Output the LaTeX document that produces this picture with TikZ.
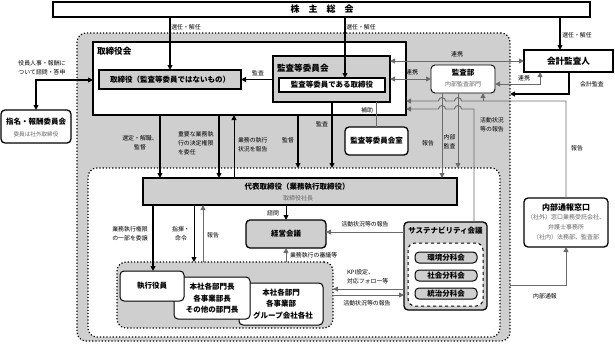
\documentclass[tikz,border=0pt]{standalone}
\usepackage{fontspec}
\setmainfont{Noto Sans CJK JP}
\usetikzlibrary{arrows.meta}
\definecolor{boxgray}{gray}{0.81}
\definecolor{linegray}{gray}{0.42}
\definecolor{txtgray}{gray}{0.4}
\begin{document}
\begin{tikzpicture}[x=1pt,y=-1pt,
  every node/.style={inner sep=0pt, outer sep=0pt},
  box/.style={draw, line width=1.3pt, align=center},
  rbox/.style={box, rounded corners=4pt},
  gbox/.style={fill=boxgray},
  wbox/.style={fill=white},
  region/.style={draw, dotted, line width=1.2pt, rounded corners=9pt},
  bt/.style={font=\bfseries\fontsize{7.5}{9}\selectfont},
  btl/.style={font=\bfseries\fontsize{8.6}{10}\selectfont},
  lbl/.style={font=\fontsize{5.9}{8.8}\selectfont, align=center},
  sub/.style={font=\fontsize{6}{8}\selectfont, text=txtgray},
  tip/.tip={Triangle[length=5pt,width=4.8pt]},
  arr/.style={line width=1.3pt, -tip},
  marr/.style={line width=0.9pt, -tip},
  arr2/.style={line width=1.1pt, tip-tip},
  garr/.style={draw=linegray, line width=0.9pt, -tip},
  garr2/.style={draw=linegray, line width=0.9pt, tip-tip}
]
\useasboundingbox (0,0) rectangle (615,343);

% ---------- regions and boxes ----------
\node[box, wbox, minimum width=537pt, minimum height=15pt] (sh) at (321.5,9.5) {};
\node[font=\bfseries\fontsize{9}{10}\selectfont] (shT) at (322,9.5) {株　主　総　会};

\node[region, fill=boxgray, minimum width=433pt, minimum height=308pt] (outer) at (293.5,187) {};
\node[box, wbox, minimum width=313pt, minimum height=73pt] (board) at (249.5,78.5) {};
\node[btl, anchor=west] (boardT) at (97,51) {取締役会};
\node[box, gbox, minimum width=142pt, minimum height=19pt, bt] (dir) at (170,79.5) {取締役（監査等委員ではないもの）};

\node[box, gbox, minimum width=117pt, minimum height=46pt] (ac) at (331.5,79) {};
\node[btl, anchor=west] (acT) at (277,68) {監査等委員会};
\node[box, wbox, minimum width=106pt, minimum height=14pt, bt] (am) at (332,85) {監査等委員である取締役};

\node[box, wbox, minimum width=89pt, minimum height=22pt, btl] (aa) at (568.5,61) {会計監査人};

\node[rbox, wbox, line width=0.9pt, minimum width=64pt, minimum height=28pt] (ad) at (463,79) {};
\node[bt] (adT) at (463,73) {監査部};
\node[sub] (adS) at (463,84.5) {内部監査部門};

\node[rbox, wbox, minimum width=63pt, minimum height=28pt, bt] (room) at (376.5,141) {監査等委員会室};

\node[rbox, wbox, minimum width=70pt, minimum height=33pt] (nom) at (36,126.5) {};
\node[bt] (nomT) at (36,122) {指名・報酬委員会};
\node[sub, font=\fontsize{5.6}{7}\selectfont] (nomS) at (36,134) {委員は社外取締役};

\node[region, fill=white, minimum width=412pt, minimum height=169pt] (inner) at (294,252.5) {};
\node[box, gbox, minimum width=314pt, minimum height=27pt] (rep) at (300,191.5) {};
\node[bt] (repT) at (297,186.5) {代表取締役（業務執行取締役）};
\node[sub] (repS) at (298,198.5) {取締役社長};

\node[rbox, gbox, minimum width=80pt, minimum height=28pt, bt] (mm) at (286,234) {経営会議};

\node[rbox, gbox, minimum width=83pt, minimum height=88pt] (sust) at (445.5,266) {};
\node[bt] (sustT) at (445.5,231) {サステナビリティ会議};
\node[draw, dashed, line width=1pt, rounded corners=7pt, fill=white, minimum width=75pt, minimum height=63pt] (sin) at (445.5,274.5) {};
\node[rbox, gbox, line width=1pt, minimum width=62pt, minimum height=11pt, bt] (env) at (446,257.5) {環境分科会};
\node[rbox, gbox, line width=1pt, minimum width=62pt, minimum height=11pt, bt] (soc) at (446,275.5) {社会分科会};
\node[rbox, gbox, line width=1pt, minimum width=62pt, minimum height=11pt, bt] (gov) at (446,293.5) {統治分科会};

\node[region, fill=boxgray, minimum width=216pt, minimum height=66pt] (low) at (225,295) {};
\node[rbox, wbox, line width=1pt, minimum width=84pt, minimum height=42pt] (dept) at (281,304) {};
\node[bt] (deptA) at (281,292.5) {本社各部門};
\node[bt] (deptB) at (281,304) {各事業部};
\node[bt] (deptC) at (283,315.5) {グループ会社各社};
\node[rbox, wbox, line width=1pt, minimum width=76pt, minimum height=42pt] (head) at (212,298) {};
\node[bt] (headA) at (212,287) {本社各部門長};
\node[bt] (headB) at (212,298.5) {各事業部長};
\node[bt] (headC) at (212,310) {その他の部門長};
\node[rbox, wbox, line width=1pt, minimum width=64pt, minimum height=30pt, bt] (exe) at (152,286) {執行役員};

\node[rbox, wbox, minimum width=84pt, minimum height=49pt] (ip) at (566,222.5) {};
\node[font=\bfseries\fontsize{8}{10}\selectfont] (ipT) at (566,207) {内部通報窓口};
\node[sub] (ipA) at (566,217.5) {（社外）窓口業務受託会社、};
\node[sub] (ipB) at (566,227.5) {弁護士事務所};
\node[sub] (ipC) at (566,237.5) {（社内）法務部、監査部};

% ---------- connectors ----------
\draw[arr] (dir.north |- sh.south) -- (dir.north);
\node[lbl] (l1) at (186,27) {選任・解任};
\draw[arr] (345,0 |- sh.south) -- (345,0 |- am.north);
\node[lbl] (l2) at (361,27) {選任・解任};
\draw[arr] (560,0 |- sh.south) -- (560,0 |- aa.north);
\node[lbl] (l3) at (577,35) {選任・解任};

\draw[arr] (ac.west |- dir.east) -- (dir.east);
\node[lbl] (l4) at (258,73) {監査};

\draw[garr2] (ac.east |- 0,61) -- (aa.west |- 0,61);
\node[lbl] (l5) at (457,54) {連携};
\draw[garr2] (ac.east |- ad.west) -- (ad.west);
\node[lbl] (l6) at (412,72) {連携};
\draw[garr2] (ad.east |- 0,84) -- (540,84) -- (540,0 |- aa.south);
\node[lbl] (l7) at (524,78) {連携};

\draw[arr] (569,0 |- aa.south) -- (569,94) -- (outer.east |- 0,94);
\node[lbl] (l8) at (592,84) {会計監査};

\draw[garr] (ip.north) -- (566,101) -- (461.5,101) arc[start angle=0,end angle=180,radius=3.5pt] -- (445.5,101) arc[start angle=0,end angle=180,radius=3.5pt] -- (board.east |- 0,101);
\draw[garr] (483,101) -- (483,0 |- ad.south);
\node[lbl] (l9) at (577,148) {報告};

\draw[garr] (sust.north -| 474,0) -- (474,109) -- (461.5,109) arc[start angle=0,end angle=180,radius=3.5pt] -- (445.5,109) arc[start angle=0,end angle=180,radius=3.5pt] -- (board.east |- 0,109);
\node[lbl] (l10) at (492,125) {活動状況\\等の報告};

\draw[garr] (442,0 |- ad.south) -- (442,0 |- rep.north);
\draw[garr] (458,0 |- ad.south) -- (458,0 |- inner.north);
\node[lbl] (l11) at (428,143) {報告};
\node[lbl] (l12) at (449.5,142) {内部\\監査};

\draw[draw=linegray, line width=0.9pt] (room.north) -- (room.north |- ac.south);
\node[lbl] (l13) at (367,110) {補助};

\draw[arr] (332,0 |- ac.south) -- (332,0 |- inner.north);
\node[lbl] (l14) at (322,124) {監査};

\draw[arr] (160,0 |- board.south) -- (160,0 |- rep.north);
\node[lbl] (l15) at (140,143) {選定・解職、\\監督};
\draw[arr] (219,0 |- board.south) -- (219,0 |- rep.north);
\node[lbl, align=left, anchor=west] (l16) at (178,143) {重要な業務執\\行の決定権限\\を委任};
\draw[marr] (234,0 |- rep.north) -- (234,0 |- board.south);
\node[lbl, align=left, anchor=west] (l17) at (238,145) {業務の執行\\状況を報告};
\draw[arr] (298,0 |- board.south) -- (298,0 |- inner.north);
\node[lbl] (l18) at (288,140) {監督};

\draw[marr] (mm.north |- rep.south) -- (mm.north);
\node[lbl] (l19) at (273,213) {諮問};
\draw[garr] (sust.west |- 0,232) -- (mm.east |- 0,232);
\node[lbl] (l20) at (365,224) {活動状況等の報告};
\draw[garr] (low.north -| mm.south) -- (mm.south);
\node[lbl, anchor=west] (l21) at (290,255) {業務執行の審議等};

\draw[arr] (153,0 |- rep.south) -- (153,0 |- exe.north);
\node[lbl] (l22) at (130,234) {業務執行権限\\の一部を委譲};
\draw[marr] (194,0 |- rep.south) -- (194,0 |- low.north);
\node[lbl] (l23) at (181,234) {指揮・\\命令};
\draw[garr] (203,0 |- low.north) -- (203,0 |- rep.south);
\node[lbl] (l24) at (213,235) {報告};

\draw[garr] (sust.west |- 0,289) -- (low.east |- 0,289);
\node[lbl, align=left, anchor=west] (l25) at (347,276.5) {KPI設定、\\対応フォロー等};
\draw[garr] (low.east |- 0,295) -- (sust.west |- 0,295);
\node[lbl] (l26) at (367,303) {活動状況等の報告};

\draw[garr] (outer.east |- 0,285) -- (566,285) -- (ip.south);
\node[lbl] (l27) at (545,296) {内部通報};

\draw[arr2] (board.west |- 0,80) -- (36,80) -- (nom.north);
\node[lbl] (l28) at (42,67.5) {役員人事・報酬に\\ついて諮問・答申};
\end{tikzpicture}
\end{document}
